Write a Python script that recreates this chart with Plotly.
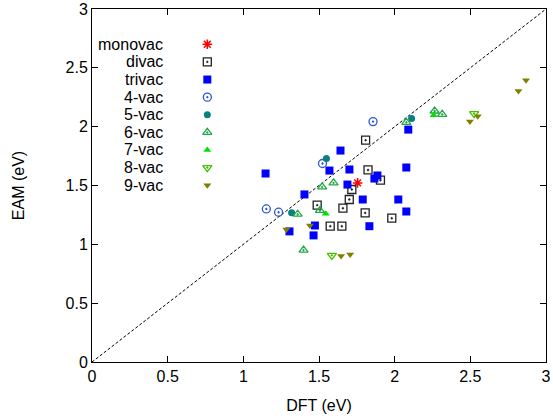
import plotly.graph_objects as go

# ---------------- data ----------------
X_RANGE = [0, 3]
Y_RANGE = [0, 3]
TICK_VALS = [0, 0.5, 1, 1.5, 2, 2.5, 3]
TICK_TEXT = ["0", "0.5", "1", "1.5", "2", "2.5", "3"]
X_TITLE = "DFT (eV)"
Y_TITLE = "EAM (eV)"

monovac_dft = [1.755]
monovac_eam = [1.522]

divac_dft = [1.808, 1.824, 1.906, 1.717, 1.700, 1.488, 1.658, 1.805, 1.981, 1.574, 1.651]
divac_eam = [1.885, 1.632, 1.545, 1.466, 1.381, 1.333, 1.307, 1.267, 1.222, 1.154, 1.154]

trivac_dft = [2.090, 1.642, 1.147, 1.569, 1.701, 2.077, 1.886, 1.866, 1.688, 1.404,
              1.789, 2.024, 2.077, 1.473, 1.833, 1.305, 1.464]
trivac_eam = [1.975, 1.797, 1.602, 1.627, 1.636, 1.653, 1.585, 1.559, 1.508, 1.424,
              1.381, 1.381, 1.279, 1.160, 1.154, 1.110, 1.076]

vac4_dft = [1.857, 1.523, 1.152, 1.233]
vac4_eam = [2.043, 1.687, 1.301, 1.273]

vac5_dft = [2.112, 1.549, 1.319]
vac5_eam = [2.069, 1.729, 1.268]

vac6_dft = [2.077, 2.264, 2.314, 1.521, 1.596, 1.506, 1.359, 1.398]
vac6_eam = [2.037, 2.133, 2.105, 1.488, 1.522, 1.288, 1.256, 0.951]

vac7_dft = [2.257, 1.545]
vac7_eam = [2.097, 1.259]

vac8_dft = [2.525, 1.585]
vac8_eam = [2.111, 0.906]

vac9_dft = [2.868, 2.818, 2.549, 2.497, 1.440, 1.284, 1.646, 1.706]
vac9_eam = [2.394, 2.303, 2.088, 2.043, 1.160, 1.126, 0.900, 0.914]

# ---------------- styles ----------------
FONT = "Liberation Sans, Arial, sans-serif"
series = [
    ("monovac", monovac_dft, monovac_eam, dict(symbol="asterisk-open", size=8, color="#ff0000", line=dict(color="#ff0000", width=1.5))),
    ("divac", divac_dft, divac_eam, dict(symbol="square-open-dot", size=8, color="#222222", line=dict(color="#222222", width=1.3))),
    ("trivac", trivac_dft, trivac_eam, dict(symbol="square", size=8, color="#0000ff", line=dict(width=0))),
    ("4-vac", vac4_dft, vac4_eam, dict(symbol="circle-open-dot", size=8, color="#2a56d6", line=dict(color="#2a56d6", width=1.3))),
    ("5-vac", vac5_dft, vac5_eam, dict(symbol="circle", size=7, color="#0a8080", line=dict(width=0))),
    ("6-vac", vac6_dft, vac6_eam, dict(symbol="triangle-up-open-dot", size=8, color="#20a845", line=dict(color="#20a845", width=1.3))),
    ("7-vac", vac7_dft, vac7_eam, dict(symbol="triangle-up", size=7, color="#00e000", line=dict(width=0))),
    ("8-vac", vac8_dft, vac8_eam, dict(symbol="triangle-down-open-dot", size=8, color="#44c000", line=dict(color="#44c000", width=1.3))),
    ("9-vac", vac9_dft, vac9_eam, dict(symbol="triangle-down", size=7, color="#808000", line=dict(width=0))),
]

# legend layout (fractions of the plot area)
LEG_SYM_X = 0.254
LEG_TEXT_X = 0.160
LEG_TOP = 0.900
LEG_STEP = 0.0499

fig = go.Figure()

# y = x reference line
fig.add_trace(go.Scatter(x=X_RANGE, y=Y_RANGE, mode="lines",
                         line=dict(color="black", width=1, dash="3px,2px"),
                         showlegend=False, hoverinfo="skip"))

for name, xs, ys, mk in series:
    fig.add_trace(go.Scatter(x=xs, y=ys, mode="markers", name=name,
                             marker=mk, showlegend=False, cliponaxis=False))

# gnuplot-style key: text right-aligned, symbol on the right
for i, (name, xs, ys, mk) in enumerate(series):
    ly = LEG_TOP - i * LEG_STEP
    fig.add_trace(go.Scatter(x=[LEG_SYM_X], y=[ly], mode="markers", marker=mk,
                             xaxis="x2", yaxis="y2", showlegend=False, hoverinfo="skip"))
    fig.add_annotation(x=LEG_TEXT_X, y=ly, xref="x2", yref="y2", text=name,
                       showarrow=False, xanchor="right", yanchor="middle",
                       font=dict(family=FONT, size=16, color="black"))

axis_common = dict(showgrid=False, zeroline=False, showline=True, linecolor="black",
                   linewidth=1, mirror="allticks", ticks="inside", ticklen=6,
                   tickcolor="black", tickfont=dict(family=FONT, size=16, color="black"),
                   tickvals=TICK_VALS, ticktext=TICK_TEXT, automargin=False)

fig.update_layout(
    width=553, height=418,
    margin=dict(l=92, r=7, t=9, b=56, autoexpand=False),
    paper_bgcolor="white", plot_bgcolor="white",
    font=dict(family=FONT, size=16, color="black"),
    xaxis=dict(range=X_RANGE, title=dict(text=X_TITLE, font=dict(family=FONT, size=16), standoff=15), **axis_common),
    yaxis=dict(range=Y_RANGE, title=dict(text=Y_TITLE, font=dict(family=FONT, size=16), standoff=36), **axis_common),
    xaxis2=dict(range=[0, 1], overlaying="x", visible=False, fixedrange=True),
    yaxis2=dict(range=[0, 1], overlaying="y", visible=False, fixedrange=True),
    showlegend=False,
)

fig.write_html("out.html",
               config={"displayModeBar": False, "staticPlot": True},
               post_script="document.body.style.margin='0';document.body.style.overflow='hidden';")
